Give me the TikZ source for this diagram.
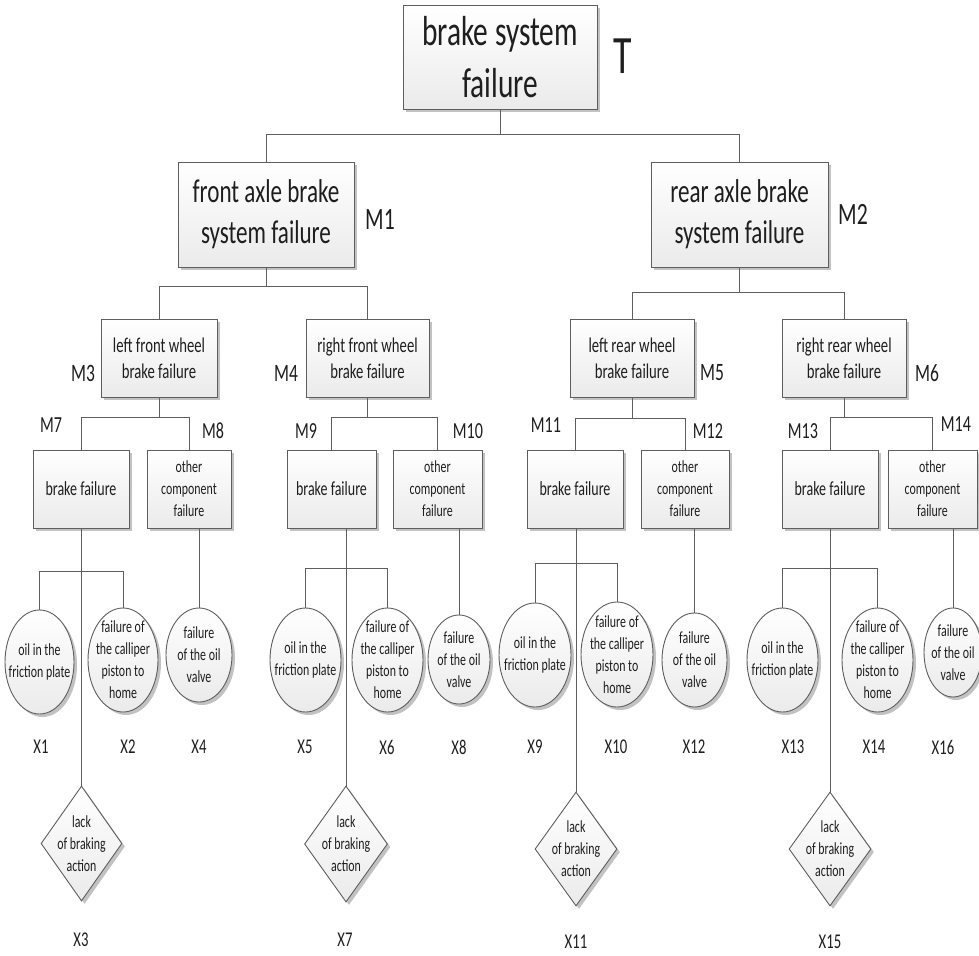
\documentclass[tikz,border=0pt]{standalone}
\usepackage{fontspec}
\setmainfont{Carlito}[FakeStretch=0.7]
\usetikzlibrary{shapes.geometric,shadows}
\newcommand{\myfs}[2]{\fontsize{#1}{#2}\selectfont}
\definecolor{ln}{HTML}{5E5E5E}
\definecolor{tx}{HTML}{1E1E1E}
\begin{document}
\begin{tikzpicture}[x=1pt,y=-1pt,
  shp/.style={draw=ln, line width=0.9pt, top color=white, bottom color=black!8,
    drop shadow={shadow xshift=3pt,shadow yshift=-3pt,fill=black!40,opacity=0.6},
    inner sep=0pt, text=tx, align=center},
  box/.style={shp, rectangle},
  ell/.style={shp, ellipse},
  dia/.style={shp, diamond},
  etxt/.style={inner sep=0pt, text=tx, align=center, font=\myfs{17}{22}},
  lab/.style={inner sep=0pt, text=tx},
  con/.style={draw=ln, line width=1pt}
]
\useasboundingbox (0,0) rectangle (979,955);

% ---- boxes
\node[box, minimum width=194pt, minimum height=104pt, font=\myfs{42}{52}] (T) at (500,57) {brake system\\failure};
\node[box, minimum width=176pt, minimum height=105pt, font=\myfs{33}{41}] (M1) at (266,214.5) {front axle brake\\system failure};
\node[box, minimum width=177pt, minimum height=105pt, font=\myfs{33}{41}] (M2) at (739.5,214.5) {rear axle brake\\system failure};

\node[box, minimum width=116pt, minimum height=78pt, font=\myfs{21}{26}] (M3) at (159,358) {left front wheel\\brake failure};
\node[box, minimum width=123pt, minimum height=78pt, font=\myfs{21}{26}] (M4) at (367.5,358) {right front wheel\\brake failure};
\node[box, minimum width=124pt, minimum height=78pt, font=\myfs{21}{26}] (M5) at (632,358) {left rear wheel\\brake failure};
\node[box, minimum width=124pt, minimum height=78pt, font=\myfs{21}{26}] (M6) at (844,358) {right rear wheel\\brake failure};

\node[box, minimum width=96pt, minimum height=78pt, font=\myfs{20}{24}] (M7) at (81,489) {brake failure};
\node[box, minimum width=84pt, minimum height=78pt, font=\myfs{17}{22}] (M8) at (189,489) {other\\component\\failure};
\node[box, minimum width=89pt, minimum height=78pt, font=\myfs{20}{24}] (M9) at (331.5,489) {brake failure};
\node[box, minimum width=89pt, minimum height=78pt, font=\myfs{17}{22}] (M10) at (437.5,489) {other\\component\\failure};
\node[box, minimum width=96pt, minimum height=78pt, font=\myfs{20}{24}] (M11) at (575,489) {brake failure};
\node[box, minimum width=88pt, minimum height=78pt, font=\myfs{17}{22}] (M12) at (685,489) {other\\component\\failure};
\node[box, minimum width=96pt, minimum height=78pt, font=\myfs{20}{24}] (M13) at (830,489) {brake failure};
\node[box, minimum width=89pt, minimum height=78pt, font=\myfs{17}{22}] (M14) at (932.5,489) {other\\component\\failure};

% ---- ellipses
\node[ell, minimum width=69pt, minimum height=104pt] (X1) at (39.5,662) {};
\node[ell, minimum width=70pt, minimum height=104pt] (X2) at (123,660) {};
\node[ell, minimum width=66pt, minimum height=94pt] (X4) at (199,655) {};
\node[ell, minimum width=71pt, minimum height=104pt] (X5) at (305.5,660) {};
\node[ell, minimum width=71pt, minimum height=104pt] (X6) at (387.5,660) {};
\node[ell, minimum width=62pt, minimum height=89pt] (X8) at (459,659.5) {};
\node[ell, minimum width=72pt, minimum height=104pt] (X9) at (535,655) {};
\node[ell, minimum width=72pt, minimum height=105pt] (X10) at (617,654.5) {};
\node[ell, minimum width=65pt, minimum height=94pt] (X12) at (694.5,660) {};
\node[ell, minimum width=71pt, minimum height=104pt] (X13) at (782.5,660) {};
\node[ell, minimum width=71pt, minimum height=104pt] (X14) at (877.5,660) {};
\node[ell, minimum width=58pt, minimum height=89pt] (X16) at (953,652.5) {};

\node[etxt] (X1t) at (X1.center) {oil in the\\friction plate};
\node[etxt] (X2t) at (X2.center) {failure of\\the calliper\\piston to\\home};
\node[etxt] (X4t) at (X4.center) {failure\\of the oil\\valve};
\node[etxt] (X5t) at (X5.center) {oil in the\\friction plate};
\node[etxt] (X6t) at (X6.center) {failure of\\the calliper\\piston to\\home};
\node[etxt] (X8t) at (X8.center) {failure\\of the oil\\valve};
\node[etxt] (X9t) at (X9.center) {oil in the\\friction plate};
\node[etxt] (X10t) at (X10.center) {failure of\\the calliper\\piston to\\home};
\node[etxt] (X12t) at (X12.center) {failure\\of the oil\\valve};
\node[etxt] (X13t) at (X13.center) {oil in the\\friction plate};
\node[etxt] (X14t) at (X14.center) {failure of\\the calliper\\piston to\\home};
\node[etxt] (X16t) at (X16.center) {failure\\of the oil\\valve};

% ---- diamonds
\node[dia, minimum width=81pt, minimum height=115pt] (X3) at (81.5,843.5) {};
\node[dia, minimum width=83pt, minimum height=116pt] (X7) at (346,844) {};
\node[dia, minimum width=82pt, minimum height=114pt] (X11) at (576,849) {};
\node[dia, minimum width=82pt, minimum height=114pt] (X15) at (830,849) {};
\node[etxt] (X3t) at (X3.center) {lack\\of braking\\action};
\node[etxt] (X7t) at (X7.center) {lack\\of braking\\action};
\node[etxt] (X11t) at (X11.center) {lack\\of braking\\action};
\node[etxt] (X15t) at (X15.center) {lack\\of braking\\action};

% ---- bus coordinates
\coordinate (bT) at (0,134);
\coordinate (b1) at (0,286);
\coordinate (b2) at (0,292);
\coordinate (b3) at (0,417);
\coordinate (b4) at (0,417);
\coordinate (b5) at (0,418);
\coordinate (b6) at (0,417);
\coordinate (b7) at (0,571);
\coordinate (b9) at (0,568);
\coordinate (b11) at (0,563);
\coordinate (b13) at (0,568);

% ---- connectors
\draw[con] (T.south) -- (T.south |- bT) -| (M1.north);
\draw[con] (T.south |- bT) -| (M2.north);
\draw[con] (M1.south) -- (M1.south |- b1) -| (M3.north);
\draw[con] (M1.south |- b1) -| (M4.north);
\draw[con] (M2.south) -- (M2.south |- b2) -| (M5.north);
\draw[con] (M2.south |- b2) -| (M6.north);
\draw[con] (M3.south) -- (M3.south |- b3) -| (M7.north);
\draw[con] (M3.south |- b3) -| (M8.north);
\draw[con] (M4.south) -- (M4.south |- b4) -| (M9.north);
\draw[con] (M4.south |- b4) -| (M10.north);
\draw[con] (M5.south) -- (M5.south |- b5) -| (M11.north);
\draw[con] (M5.south |- b5) -| (M12.north);
\draw[con] (M6.south) -- (M6.south |- b6) -| (M13.north);
\draw[con] (M6.south |- b6) -| (M14.north);

\draw[con] (X3.north |- M7.south) -- (X3.north);
\draw[con] (X1.north) -- (X1.north |- b7) -| (X2.north);
\draw[con] (X4.north |- M8.south) -- (X4.north);
\draw[con] (X7.north |- M9.south) -- (X7.north);
\draw[con] (X5.north) -- (X5.north |- b9) -| (X6.north);
\draw[con] (X8.north |- M10.south) -- (X8.north);
\draw[con] (X11.north |- M11.south) -- (X11.north);
\draw[con] (X9.north) -- (X9.north |- b11) -| (X10.north);
\draw[con] (X12.north |- M12.south) -- (X12.north);
\draw[con] (X15.north |- M13.south) -- (X15.north);
\draw[con] (X13.north) -- (X13.north |- b13) -| (X14.north);
\draw[con] (X16.north |- M14.south) -- (X16.north);

% ---- labels
\node[lab, font=\myfs{54}{60}] (LT) at (623,56) {T};
\node[lab, font=\myfs{31}{36}] (LM1) at (380,220) {M1};
\node[lab, font=\myfs{31}{36}] (LM2) at (853,214) {M2};
\node[lab, font=\myfs{25}{30}] (LM3) at (83,373) {M3};
\node[lab, font=\myfs{25}{30}] (LM4) at (286,373) {M4};
\node[lab, font=\myfs{25}{30}] (LM5) at (712,373) {M5};
\node[lab, font=\myfs{25}{30}] (LM6) at (927,373) {M6};
\node[lab, font=\myfs{23}{28}] (LM7) at (51,425) {M7};
\node[lab, font=\myfs{23}{28}] (LM8) at (213,431) {M8};
\node[lab, font=\myfs{23}{28}] (LM9) at (306,431) {M9};
\node[lab, font=\myfs{23}{28}] (LM10) at (468,431) {M10};
\node[lab, font=\myfs{23}{28}] (LM11) at (546,425) {M11};
\node[lab, font=\myfs{23}{28}] (LM12) at (708,431) {M12};
\node[lab, font=\myfs{23}{28}] (LM13) at (803,431) {M13};
\node[lab, font=\myfs{23}{28}] (LM14) at (956,424) {M14};

\node[lab, font=\myfs{21}{26}] (LX1) at (41,747) {X1};
\node[lab, font=\myfs{21}{26}] (LX2) at (128,747) {X2};
\node[lab, font=\myfs{21}{26}] (LX4) at (199,747) {X4};
\node[lab, font=\myfs{21}{26}] (LX5) at (305,747) {X5};
\node[lab, font=\myfs{21}{26}] (LX6) at (387,747) {X6};
\node[lab, font=\myfs{21}{26}] (LX8) at (459,747) {X8};
\node[lab, font=\myfs{21}{26}] (LX9) at (535,747) {X9};
\node[lab, font=\myfs{21}{26}] (LX10) at (616,747) {X10};
\node[lab, font=\myfs{21}{26}] (LX12) at (694,747) {X12};
\node[lab, font=\myfs{21}{26}] (LX13) at (793,747) {X13};
\node[lab, font=\myfs{21}{26}] (LX14) at (874,747) {X14};
\node[lab, font=\myfs{21}{26}] (LX16) at (943,747) {X16};
\node[lab, font=\myfs{21}{26}] (LX3) at (81,940) {X3};
\node[lab, font=\myfs{21}{26}] (LX7) at (345,940) {X7};
\node[lab, font=\myfs{21}{26}] (LX11) at (576,942) {X11};
\node[lab, font=\myfs{21}{26}] (LX15) at (830,942) {X15};
\end{tikzpicture}
\end{document}
